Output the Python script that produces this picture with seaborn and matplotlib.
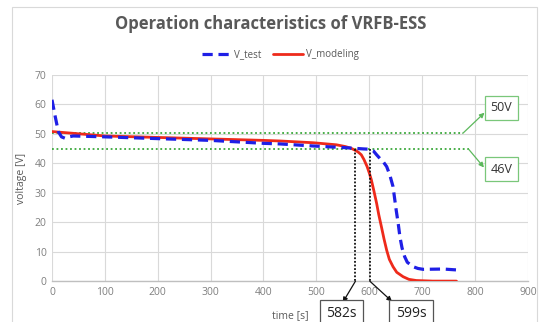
import matplotlib
matplotlib.use("Agg")
import matplotlib.pyplot as plt
import seaborn as sns
import pandas as pd
from matplotlib.patches import Rectangle

# ---- data ----
t_test = [0, 6, 12, 18, 25, 32, 40, 60, 100, 200, 300, 400, 431, 494, 557, 589, 601, 608, 614, 620,
          627, 633, 639, 645, 651, 655, 658, 662, 667, 672, 683, 692, 702, 740, 765]
v_test = [61.6, 56.0, 50.8, 49.0, 48.5, 49.0, 49.3, 49.2, 49.0, 48.4, 47.8, 46.8, 46.6, 45.9, 45.3, 44.9,
          44.8, 44.2, 42.9, 41.7, 40.4, 38.9, 36.0, 32.1, 24.1, 19.3, 15.1, 11.3, 8.3, 6.4, 4.9, 4.3,
          4.0, 4.1, 3.8]
t_model = [0, 100, 200, 300, 400, 431, 494, 538, 555, 566, 575, 580, 585, 590, 596, 600, 604, 609,
           614, 618, 623, 628, 633, 638, 645, 652, 664, 675, 689, 720, 765]
v_model = [50.8, 49.3, 48.8, 48.3, 47.8, 47.6, 47.0, 46.3, 45.7, 45.1, 44.3, 43.7, 42.9, 41.3, 38.9, 36.8,
           34.4, 30.5, 26.4, 22.6, 18.5, 14.3, 10.5, 7.4, 4.9, 3.0, 1.5, 0.6, 0.2, 0.0, 0.0]

ref_levels = [50.2, 44.8]          # green dotted reference lines
ref_ends = [777, 788]              # where they stop (time)
ref_labels = ["50V", "46V"]
cut_times = [574, 601]             # black dotted vertical lines
cut_labels = ["582s", "599s"]

x_ticks = list(range(0, 901, 100))
y_ticks = list(range(0, 71, 10))

sns.set_theme(style="whitegrid")
plt.rcParams["font.family"] = ["Open Sans", "DejaVu Sans"]

fig = plt.figure(figsize=(5.42, 3.22), dpi=100)
ax = fig.add_axes([0.0959, 0.127, 0.878, 0.640])

df_test = pd.DataFrame({"time": t_test, "voltage": v_test})
df_model = pd.DataFrame({"time": t_model, "voltage": v_model})

sns.lineplot(data=df_test, x="time", y="voltage", ax=ax, color="#1f1fe6",
             linewidth=2.3, linestyle=(0, (3.2, 1.8)), label="V_test", zorder=4)
sns.lineplot(data=df_model, x="time", y="voltage", ax=ax, color="#ee2a1b",
             linewidth=2.0, label="V_modeling", zorder=3)

green = "#5cb85c"
for lvl, end in zip(ref_levels, ref_ends):
    ax.plot([0, end], [lvl, lvl], linestyle=(0, (1, 1.5)), color="#3aa83a",
            linewidth=1.3, zorder=2)

# green callouts
ax.annotate("", xy=(818, 57.2), xytext=(ref_ends[0], ref_levels[0]),
            arrowprops=dict(arrowstyle="-|>", color=green, lw=0.9, mutation_scale=7,
                            shrinkA=0, shrinkB=0), annotation_clip=False)
ax.annotate("", xy=(817, 38.6), xytext=(ref_ends[1], ref_levels[1]),
            arrowprops=dict(arrowstyle="-|>", color=green, lw=0.9, mutation_scale=7,
                            shrinkA=0, shrinkB=0), annotation_clip=False)
box_y = [58.9, 38.0]
for lab, yy in zip(ref_labels, box_y):
    ax.text(850, yy, lab, ha="center", va="center", fontsize=9, color="#333333",
            bbox=dict(boxstyle="square,pad=0.45", fc="white", ec="#7ac77a", lw=0.9),
            clip_on=False, zorder=6)

# black dotted vertical lines
for tc in cut_times:
    ax.plot([tc, tc], [ref_levels[1], 0], linestyle=(0, (1, 1)), color="#111111",
            linewidth=1.3, zorder=5)
ax.annotate("", xy=(550, -7.2), xytext=(cut_times[0], 0),
            arrowprops=dict(arrowstyle="-|>", color="#111111", lw=0.9, mutation_scale=7,
                            shrinkA=0, shrinkB=0), annotation_clip=False)
ax.annotate("", xy=(643, -6.9), xytext=(cut_times[1], 0),
            arrowprops=dict(arrowstyle="-|>", color="#111111", lw=0.9, mutation_scale=7,
                            shrinkA=0, shrinkB=0), annotation_clip=False)
for lab, xx in zip(cut_labels, [548, 679]):
    ax.text(xx, -11.0, lab, ha="center", va="center", fontsize=10, color="#222222",
            bbox=dict(boxstyle="square,pad=0.45", fc="white", ec="#555555", lw=0.9),
            clip_on=False, zorder=6)

ax.set_xlim(0, 900)
ax.set_ylim(0, 70)
ax.set_xticks(x_ticks)
ax.set_yticks(y_ticks)
ax.tick_params(axis="both", labelsize=7.5, colors="#7f7f7f", length=0, pad=4)
ax.grid(True, color="#d9d9d9", linewidth=0.8)
for s in ["top", "right", "left"]:
    ax.spines[s].set_visible(False)
ax.spines["bottom"].set_color("#bfbfbf")
ax.spines["bottom"].set_linewidth(1.0)
ax.set_xlabel("time [s]", fontsize=7.5, color="#595959")
ax.set_ylabel("voltage [V]", fontsize=7.5, color="#595959")
ax.xaxis.set_label_coords(0.5, -0.14)
ax.yaxis.set_label_coords(-0.052, 0.5)

leg = ax.legend(loc="lower center", bbox_to_anchor=(0.48, 1.03), ncol=2, frameon=False,
                fontsize=7, handlelength=3.0, columnspacing=1.2, handletextpad=0.3)
for txt in leg.get_texts():
    txt.set_color("#595959")

fig.text(0.5, 0.925, "Operation characteristics of VRFB-ESS", ha="center", va="center",
         fontsize=12, fontweight="bold", color="#595959")

fig.patches.append(Rectangle((12 / 542, -0.1), (537 - 12) / 542, 1.1 - 7 / 322,
                             transform=fig.transFigure, fill=False, ec="#d9d9d9", lw=0.8))

fig.savefig("out.png", dpi=100)
